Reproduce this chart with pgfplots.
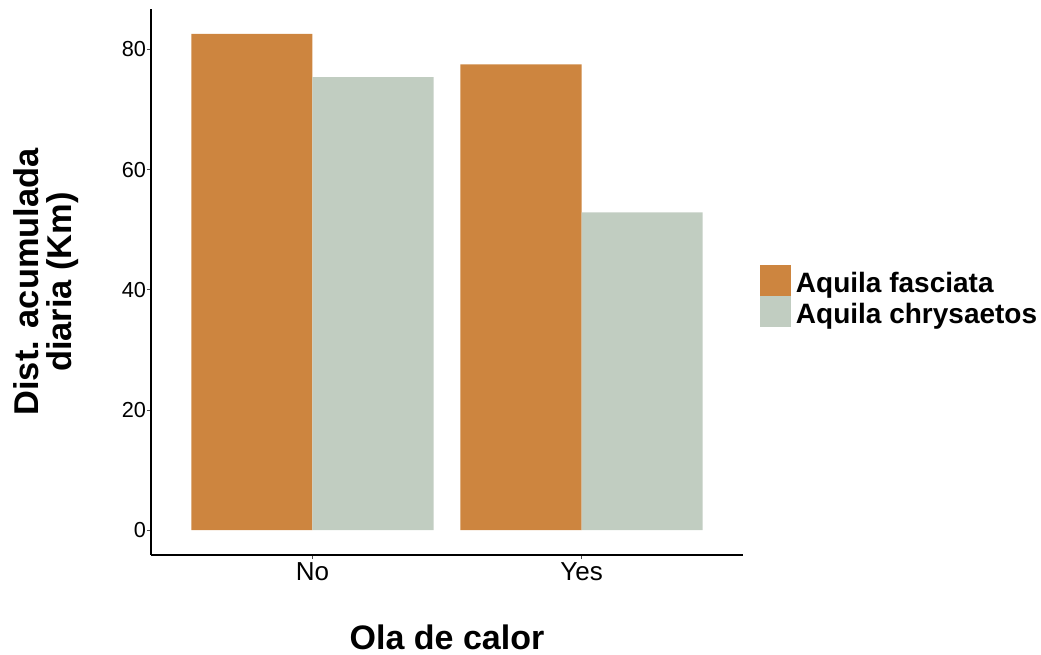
\documentclass[border=0pt]{standalone}
\usepackage{fontspec}
\setmainfont{Liberation Sans}
\usepackage{pgfplots}
\pgfplotsset{compat=1.18}
\definecolor{fasc}{RGB}{205,133,63}
\definecolor{chry}{RGB}{193,205,193}
\begin{document}
\begin{tikzpicture}
\path[use as bounding box] (-113.25pt,-75pt) rectangle (667.5pt,416.25pt);
\begin{axis}[
  scale only axis,
  width=444pt, height=409.5pt,
  xmin=0.4, xmax=2.6,
  ymin=-4.13, ymax=86.73,
  axis x line*=bottom, axis y line*=left,
  axis line style={line width=2.2pt, black},
  xtick={1,2}, xticklabels={No,Yes},
  ytick={0,20,40,60,80},
  /pgf/number format/assume math mode=true,
  tick align=outside,
  major tick length=3pt,
  tick style={line width=0.6pt, black!70},
  yticklabel style={font=\fontsize{16.3}{16.3}\selectfont, inner sep=0.6pt},
  xticklabel style={font=\fontsize{19.5}{19.5}\selectfont, inner sep=0pt, yshift=-2.25pt},
  xlabel={Ola de calor},
  xlabel style={at={(axis description cs:0.5,0)}, anchor=base, yshift=-71pt, font=\bfseries\fontsize{25.5}{25.5}\selectfont},
  ylabel={Dist. acumulada\\diaria (Km)},
  ylabel style={at={(axis description cs:-0.1215,0.5)}, anchor=south, inner sep=0pt, align=center, font=\bfseries\fontsize{25.8}{25}\selectfont},
  ybar, bar width=0.45,
  legend image code/.code={\fill[#1] (0pt,-2.5pt) rectangle (23.25pt,20.75pt);},
  legend style={draw=none, fill=none, inner sep=0pt, outer sep=0pt,
    at={(axis description cs:1.0287,0.531)}, anchor=north west,
    row sep=0pt, column sep=3.75pt,
    cells={anchor=base west},
    nodes={inner sep=0pt, text height=20.75pt, text depth=2.5pt, font=\bfseries\fontsize{21}{21}\selectfont}},
]
\addplot[fill=fasc, draw=none, bar shift=-0.225] coordinates {(1,82.6) (2,77.5)};
\addplot[fill=chry, draw=none, bar shift=0.225] coordinates {(1,75.4) (2,52.9)};
\legend{Aquila fasciata, Aquila chrysaetos}
\end{axis}
\end{tikzpicture}
\end{document}
